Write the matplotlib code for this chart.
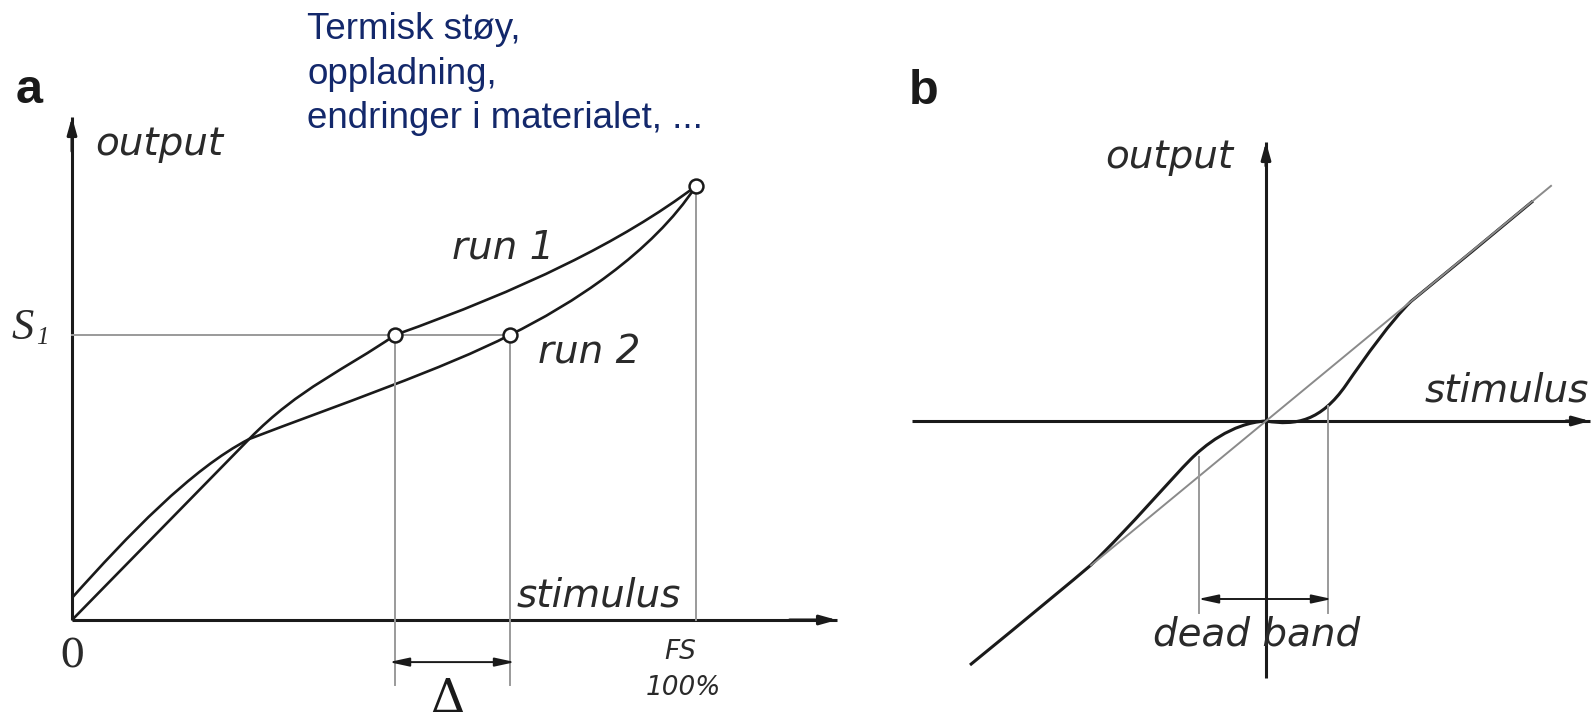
import matplotlib
matplotlib.use("Agg")
import matplotlib.pyplot as plt
from matplotlib.path import Path
from matplotlib.patches import PathPatch

W, H = 1592, 724
INK = "#1a1a1a"
GREY = "#9a9a9a"
TXT = "#2a2a2a"
NAVY = "#13286b"

# --- panel a: repeatability (stimulus and output normalised to full scale) ---
s1 = 0.657                  # output level S1
x_run1, x_run2 = 0.518, 0.702   # stimulus giving S1 in each run
run1_ctrl = [(0, 0), (0.095, 0.139), (0.189, 0.278), (0.284, 0.417),
             (0.364, 0.535), (0.438, 0.577), (x_run1, s1),
             (0.72, 0.76), (0.88, 0.87), (1, 1)]
run2_ctrl = [(0, 0.051), (0.09, 0.195), (0.19, 0.347), (0.284, 0.417),
             (0.42, 0.492), (0.60, 0.581), (x_run2, s1),
             (0.80, 0.726), (0.93, 0.846), (1, 1)]
notes = ["Termisk støy,", "oppladning,", "endringer i materialet, ..."]

# --- panel b: dead band (units of 100 px around the origin) ---
gain = 0.825
db_left, db_right = -0.67, 0.62
dead_ctrl = [(-2.96, -2.44), (-2.36, -1.95), (-1.95, -1.61), (-1.75, -1.44),
             (-1.35, -1.05), (-0.95, -0.58), (-0.75, -0.38),
             (-0.63, -0.26), (-0.35, -0.02), (0, 0),
             (0.30, -0.05), (0.55, 0.0), (0.80, 0.36),
             (1.0, 0.65), (1.25, 1.0), (1.45, 1.196),
             (1.86, 1.53), (2.26, 1.86), (2.67, 2.20)]
ref_u = [-1.75, 2.85]


def bezier(ax, pts, **kw):
    codes = [Path.MOVETO] + [Path.CURVE4] * (len(pts) - 1)
    ax.add_patch(PathPatch(Path(pts, codes), fill=False, **kw))


def arrow(ax, start, tip, lw=2.2, style="-|>", hl=0.5, hw=0.14):
    ax.annotate("", xy=tip, xytext=start, annotation_clip=False,
                arrowprops=dict(arrowstyle=f"{style},head_length={hl},head_width={hw}",
                                mutation_scale=20, lw=lw, color=INK,
                                shrinkA=0, shrinkB=0))


fig = plt.figure(figsize=(W / 100, H / 100), dpi=100, facecolor="white")

# panel a: origin at (72, 620) px, full scale point at (696, 186) px
sx, sy = 624, 434
split = 0.56
ax = fig.add_axes([0, 0, split, 1])
ax.set_xlim(-72 / sx, (split * W - 72) / sx)
ax.set_ylim((620 - H) / sy, 620 / sy)
ax.axis("off")

ax.plot([0, 0], [0, 1.159], color=INK, lw=2.2, solid_capstyle="butt")
arrow(ax, (0, 1.08), (0, 1.159))
ax.plot([0, 1.226], [0, 0], color=INK, lw=2.2, solid_capstyle="butt")
arrow(ax, (1.15, 0), (1.226, 0))

ax.plot([0, x_run2], [s1, s1], color=GREY, lw=1.4)
ax.plot([x_run1, x_run1], [s1, -0.150], color=GREY, lw=1.4)
ax.plot([x_run2, x_run2], [s1, -0.150], color=GREY, lw=1.4)
ax.plot([1, 1], [1, 0], color=GREY, lw=1.4)

bezier(ax, run1_ctrl, color=INK, lw=1.9)
bezier(ax, run2_ctrl, color=INK, lw=1.9)
ax.plot([x_run1, x_run2, 1], [s1, s1, 1], "o", ms=10, mfc="white",
        mec=INK, mew=1.8, zorder=5)

# spread between the two runs at S1
arrow(ax, (x_run1 - 0.01, -0.097), (x_run2 + 0.008, -0.097),
      lw=1.4, style="<|-|>", hl=0.6, hw=0.13)

it = dict(family="DejaVu Sans", style="italic", color=TXT, fontsize=28)
ax.text(0.037, 1.071, "output", va="baseline", **it)
ax.text(0.609, 0.832, "run 1", va="baseline", **it)
ax.text(0.747, 0.592, "run 2", va="baseline", **it)
ax.text(0.712, 0.032, "stimulus", va="baseline", **it)
ax.text(0.974, -0.074, "FS", ha="center", va="center",
        family="DejaVu Sans", style="italic", color=TXT, fontsize=19)
ax.text(0.979, -0.157, "100%", ha="center", va="center",
        family="DejaVu Sans", style="italic", color=TXT, fontsize=19)
ax.text(0.0, -0.085, "0", ha="center", va="center",
        family="DejaVu Serif", color=TXT, fontsize=29)
ax.text(-0.079, 0.672, "S", ha="center", va="center",
        family="Liberation Serif", style="italic", color=TXT, fontsize=32)
ax.text(-0.047, 0.650, "1", ha="center", va="center",
        family="Liberation Serif", style="italic", color=TXT, fontsize=18)
ax.text(0.601, -0.184, "Δ", ha="center", va="center",
        family="DejaVu Serif", color=INK, fontsize=34)
ax.text(-0.091, 1.191, "a", va="baseline", family="Liberation Sans",
        weight="bold", color=INK, fontsize=35)
for i, line in enumerate(notes):
    ax.text(0.377, 1.338 - i * 0.102, line, va="baseline",
            family="Liberation Sans", color=NAVY, fontsize=26.5)

# panel b: origin at (1266, 421) px
bx = fig.add_axes([split, 0, 1 - split, 1])
bx.set_xlim((split * W - 1266) / 100, (W - 1266) / 100)
bx.set_ylim((421 - H) / 100, 421 / 100)
bx.axis("off")

bx.plot([-3.54, 3.24], [0, 0], color=INK, lw=2.2, solid_capstyle="butt")
arrow(bx, (3.0, 0), (3.24, 0))
bx.plot([0, 0], [-2.57, 2.79], color=INK, lw=2.2, solid_capstyle="butt")
arrow(bx, (0, 2.55), (0, 2.79))

bx.plot(ref_u, [gain * u for u in ref_u], color="#8a8a8a", lw=1.4)
bezier(bx, dead_ctrl, color=INK, lw=2.2)

bx.plot([db_left, db_left], [-0.36, -1.92], color=GREY, lw=1.4)
bx.plot([db_right, db_right], [0.15, -1.92], color=GREY, lw=1.4)
arrow(bx, (db_left - 0.01, -1.78), (db_right + 0.04, -1.78),
      lw=1.4, style="<|-|>", hl=0.6, hw=0.13)

bx.text(-1.61, 2.53, "output", va="baseline", **it)
bx.text(1.59, 0.19, "stimulus", va="baseline", clip_on=False, **it)
bx.text(-0.09, -2.24, "dead band", ha="center", va="baseline", **it)
bx.text((909 - 1266) / 100, (421 - 104) / 100, "b", va="baseline",
        family="Liberation Sans", weight="bold", color=INK, fontsize=35)

fig.savefig("out.png", dpi=100, facecolor="white")
